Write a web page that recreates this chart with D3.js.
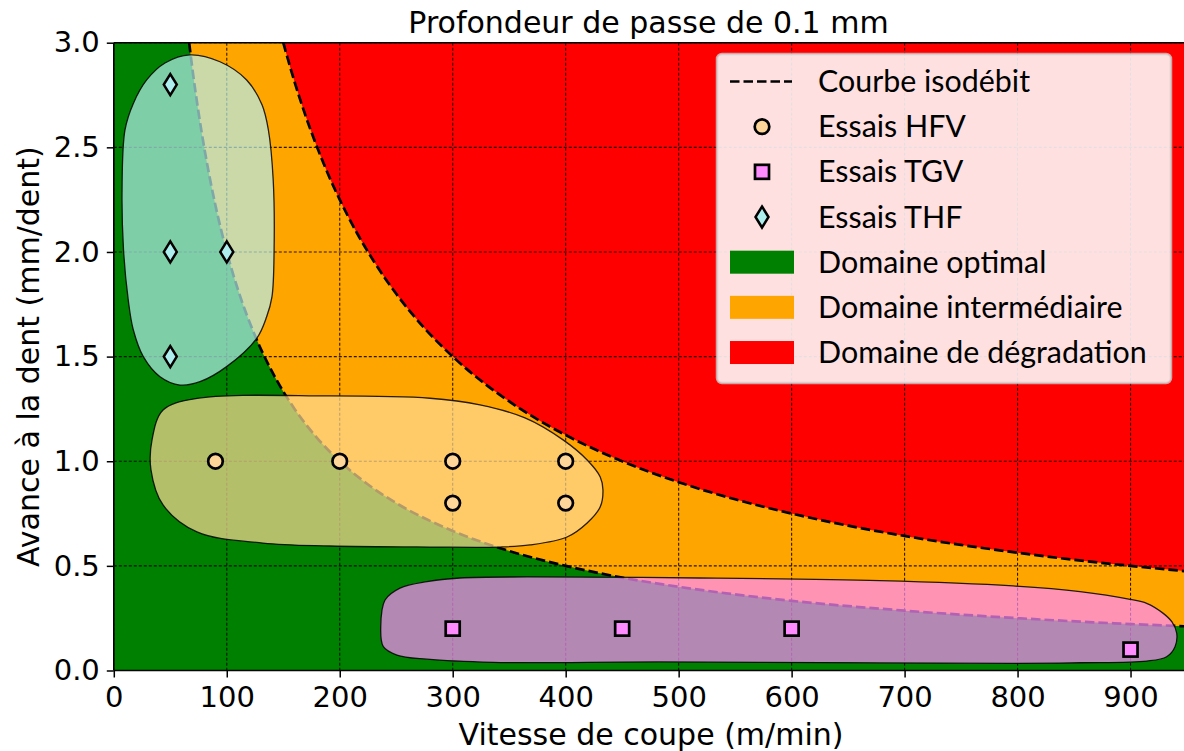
<!DOCTYPE html>
<html>
<head>
<meta charset="utf-8">
<script src="https://cdn.jsdelivr.net/npm/d3@7"></script>
<style>
  body { margin: 0; background: #ffffff; }
  svg { display: block; overflow: hidden; }
</style>
</head>
<body>
<svg id="chart" width="1184" height="751"></svg>
<script>
// ---- Axis ticks ----
const xTicks = [0, 100, 200, 300, 400, 500, 600, 700, 800, 900];
const yTicks = [0.0, 0.5, 1.0, 1.5, 2.0, 2.5, 3.0];

// ---- Boundary between intermediate and degradation domains (isodébit curve) ----
const isoDegradVitesse = [150, 160, 170, 180, 190, 200, 215, 230, 250, 275, 300, 330, 360, 400, 450, 500, 550, 600, 650, 700, 750, 800, 850, 900, 950];
const isoDegradAvance  = [3.000, 2.813, 2.647, 2.500, 2.368, 2.250, 2.093, 1.957, 1.800, 1.636, 1.500, 1.364, 1.250, 1.125, 1.000, 0.900, 0.818, 0.750, 0.692, 0.643, 0.600, 0.563, 0.529, 0.500, 0.474];

// ---- Boundary between optimal and intermediate domains ----
const isoOptVitesse = [66.7, 70, 75, 80, 90, 100, 110, 125, 140, 160, 180, 200, 225, 250, 300, 350, 400, 450, 500, 600, 700, 800, 900, 950];
const isoOptAvance  = [3.000, 2.857, 2.667, 2.500, 2.222, 2.000, 1.818, 1.600, 1.429, 1.250, 1.111, 1.000, 0.889, 0.800, 0.667, 0.571, 0.500, 0.444, 0.400, 0.333, 0.286, 0.250, 0.222, 0.211];

// ---- Test points ----
const hfvVitesse = [90, 200, 300, 300, 400, 400];
const hfvAvance  = [1.0, 1.0, 1.0, 0.8, 1.0, 0.8];
const tgvVitesse = [300, 450, 600, 900];
const tgvAvance  = [0.2, 0.2, 0.2, 0.1];
const thfVitesse = [50, 50, 100, 50];
const thfAvance  = [2.8, 2.0, 2.0, 1.5];

// ---- Envelopes around each test campaign ----
const thfContourVitesse = [67.4, 94, 117.6, 131.2, 136.8, 141.1, 141.9, 140, 135.3, 126.5, 99.9, 76.3, 58.6, 40.9, 26.1, 17.3, 12.8, 8.6, 7.3, 9.9, 17.3, 29.1, 45.3];
const thfContourAvance  = [2.942, 2.909, 2.822, 2.703, 2.584, 2.344, 2.01, 1.785, 1.69, 1.587, 1.452, 1.38, 1.364, 1.404, 1.5, 1.627, 1.77, 2.01, 2.296, 2.583, 2.71, 2.822, 2.903];

const hfvContourVitesse = [43.6, 73.6, 191.4, 279.9, 324.1, 364, 397.7, 419, 430.6, 433, 430.6, 419, 401.2, 368.4, 341.8, 279.9, 191.4, 132.1, 73.6, 43.6, 32.9, 33.8];
const hfvContourAvance  = [1.245, 1.300, 1.312, 1.301, 1.269, 1.207, 1.102, 1.006, 0.925, 0.863, 0.782, 0.705, 0.638, 0.600, 0.590, 0.590, 0.595, 0.609, 0.662, 0.791, 0.959, 1.101];

const tgvContourVitesse = [253.3, 277.2, 306.5, 365.8, 518.9, 678.2, 796, 855.3, 899.6, 914.3, 929, 936.7, 940.9, 939.4, 932, 914.3, 855.3, 796, 678.2, 483.6, 335.8, 277.2, 250.6, 238.6, 236.3, 240.1];
const tgvContourAvance  = [0.394, 0.425, 0.442, 0.447, 0.442, 0.429, 0.404, 0.377, 0.340, 0.321, 0.273, 0.232, 0.178, 0.114, 0.066, 0.045, 0.037, 0.034, 0.036, 0.041, 0.039, 0.054, 0.074, 0.114, 0.209, 0.337];

// ---- Legend ----
const legendLabels = ["Courbe isodébit", "Essais HFV", "Essais TGV", "Essais THF", "Domaine optimal", "Domaine intermédiaire", "Domaine de dégradation"];

// ---- Colours ----
const COL_OPT = "#008000", COL_INT = "#ffa500", COL_DEG = "#ff0000";
const COL_HFV = "#ffdc96", COL_TGV = "#ff8cff", COL_THF = "#b4f0ee";
const MK_HFV = "#ffd699", MK_TGV = "#ff8cff", MK_THF = "#afeeee";

const zip = (a, b) => a.map((v, i) => [v, b[i]]);

const svg = d3.select("#chart");
const plotLeft = 113.8, plotTop = 42.7, plotBottom = 670.5;
const x = d3.scaleLinear().domain([0, 950]).range([plotLeft, plotLeft + 950 * 1.1297]);
const y = d3.scaleLinear().domain([0, 3]).range([plotBottom, plotTop]);
const plotRight = x(950);

const FONT = "'DejaVu Sans', sans-serif";

svg.append("defs").append("clipPath").attr("id", "plotclip")
  .append("rect").attr("x", plotLeft).attr("y", plotTop).attr("width", plotRight - plotLeft).attr("height", plotBottom - plotTop);

const plot = svg.append("g").attr("clip-path", "url(#plotclip)");

// Domains
plot.append("rect").attr("x", plotLeft).attr("y", plotTop).attr("width", plotRight - plotLeft).attr("height", plotBottom - plotTop).attr("fill", COL_OPT);

const areaAbove = d3.area().x(d => x(d[0])).y0(y(3)).y1(d => y(d[1])).curve(d3.curveMonotoneX);
plot.append("path").datum(zip(isoOptVitesse, isoOptAvance)).attr("d", areaAbove).attr("fill", COL_INT);
plot.append("path").datum(zip(isoDegradVitesse, isoDegradAvance)).attr("d", areaAbove).attr("fill", COL_DEG);

// Grid
const grid = plot.append("g").attr("stroke", "#000").attr("stroke-width", 1.1).attr("stroke-dasharray", "3,2").attr("stroke-opacity", 0.85);
grid.selectAll("line.gx").data(xTicks).join("line").attr("class", "gx")
  .attr("x1", d => x(d)).attr("x2", d => x(d)).attr("y1", plotTop).attr("y2", plotBottom);
grid.selectAll("line.gy").data(yTicks).join("line").attr("class", "gy")
  .attr("x1", plotLeft).attr("x2", plotRight).attr("y1", d => y(d)).attr("y2", d => y(d));

// Boundary curves
const line = d3.line().x(d => x(d[0])).y(d => y(d[1])).curve(d3.curveMonotoneX);
[zip(isoOptVitesse, isoOptAvance), zip(isoDegradVitesse, isoDegradAvance)].forEach(pts => {
  plot.append("path").datum(pts).attr("d", line)
    .attr("fill", "none").attr("stroke", "#000").attr("stroke-width", 2.7).attr("stroke-dasharray", "9.5,4");
});

// Envelopes
const closed = d3.line().x(d => x(d[0])).y(d => y(d[1])).curve(d3.curveCatmullRomClosed.alpha(0.5));
[[thfContourVitesse, thfContourAvance, COL_THF],
 [hfvContourVitesse, hfvContourAvance, COL_HFV],
 [tgvContourVitesse, tgvContourAvance, COL_TGV]].forEach(([vs, fs, c]) => {
  plot.append("path").datum(zip(vs, fs)).attr("d", closed)
    .attr("fill", c).attr("fill-opacity", 0.7)
    .attr("stroke", "#000").attr("stroke-opacity", 0.85).attr("stroke-width", 1.3);
});

// Marker symbols
const diamondPath = (cx, cy) => `M${cx},${cy - 10.5}L${cx + 6.5},${cy}L${cx},${cy + 10.5}L${cx - 6.5},${cy}Z`;
function circleMk(g, cx, cy) {
  g.append("circle").attr("cx", cx).attr("cy", cy).attr("r", 7.3).attr("fill", MK_HFV).attr("stroke", "#000").attr("stroke-width", 2.7);
}
function squareMk(g, cx, cy) {
  g.append("rect").attr("x", cx - 7).attr("y", cy - 7).attr("width", 14).attr("height", 14).attr("fill", MK_TGV).attr("stroke", "#000").attr("stroke-width", 2.7);
}
function diamondMk(g, cx, cy) {
  g.append("path").attr("d", diamondPath(cx, cy)).attr("fill", MK_THF).attr("stroke", "#000").attr("stroke-width", 2.5).attr("stroke-linejoin", "miter");
}

const marks = svg.append("g");
zip(hfvVitesse, hfvAvance).forEach(([v, f]) => circleMk(marks, x(v), y(f)));
zip(tgvVitesse, tgvAvance).forEach(([v, f]) => squareMk(marks, x(v), y(f)));
zip(thfVitesse, thfAvance).forEach(([v, f]) => diamondMk(marks, x(v), y(f)));

// Axes
const xAxis = svg.append("g").attr("transform", `translate(0,${plotBottom})`)
  .call(d3.axisBottom(x).tickValues(xTicks).tickFormat(d3.format("d")).tickSize(7).tickPadding(9));
const yAxis = svg.append("g").attr("transform", `translate(${plotLeft},0)`)
  .call(d3.axisLeft(y).tickValues(yTicks).tickFormat(d3.format(".1f")).tickSize(7).tickPadding(7));
[xAxis, yAxis].forEach(a => {
  a.select(".domain").remove();
  a.selectAll(".tick line").attr("stroke", "#000").attr("stroke-width", 1.5);
  a.selectAll(".tick text").attr("fill", "#000").style("font-family", FONT).style("font-size", "29px");
});

// Spines
const spines = svg.append("g").attr("stroke", "#000").attr("stroke-width", 1.6).attr("fill", "none");
spines.append("line").attr("x1", plotLeft).attr("x2", plotLeft).attr("y1", plotTop).attr("y2", plotBottom);
spines.append("line").attr("x1", plotLeft).attr("x2", plotRight).attr("y1", plotTop).attr("y2", plotTop);
spines.append("line").attr("x1", plotLeft).attr("x2", plotRight).attr("y1", plotBottom).attr("y2", plotBottom);

// Titles
svg.append("text").attr("x", (405 + 892) / 2).attr("y", 33).attr("text-anchor", "middle")
  .style("font-family", FONT).style("font-size", "30px").text("Profondeur de passe de 0.1 mm");
svg.append("text").attr("x", 651).attr("y", 745).attr("text-anchor", "middle")
  .style("font-family", FONT).style("font-size", "30px").text("Vitesse de coupe (m/min)");
svg.append("text").attr("transform", `translate(39,${(plotTop + plotBottom) / 2}) rotate(-90)`).attr("text-anchor", "middle")
  .style("font-family", FONT).style("font-size", "30px").text("Avance à la dent (mm/dent)");

// Legend
const lg = svg.append("g");
lg.append("rect").attr("x", 717).attr("y", 54).attr("width", 454).attr("height", 329).attr("rx", 5)
  .attr("fill", "#fff").attr("fill-opacity", 0.88)
  .attr("stroke", "#cccccc").attr("stroke-opacity", 0.8).attr("stroke-width", 2.5);

const rowY = i => 81.5 + i * 45.17;
const handleX = 762;
lg.append("line").attr("x1", 730).attr("x2", 792).attr("y1", rowY(0)).attr("y2", rowY(0))
  .attr("stroke", "#000").attr("stroke-width", 2.7).attr("stroke-dasharray", "9.5,4");
circleMk(lg, handleX, rowY(1));
squareMk(lg, handleX, rowY(2));
diamondMk(lg, handleX, rowY(3));
[COL_OPT, COL_INT, COL_DEG].forEach((c, k) => {
  lg.append("rect").attr("x", 730).attr("y", rowY(4 + k) - 11.5).attr("width", 64).attr("height", 23).attr("fill", c);
});

const LFONT = "Lato, 'Open Sans', sans-serif";
const texts = lg.selectAll("text.lbl").data(legendLabels).join("text").attr("class", "lbl")
  .attr("x", 818).attr("y", (d, i) => rowY(i) + 10.5)
  .style("font-family", LFONT).style("font-size", "32px").attr("fill", "#000").text(d => d);
// Size the legend font so the longest label spans the legend width
const longest = texts.filter((d, i) => i === 6).node().getComputedTextLength();
const lsize = 32 * 329 / longest;
texts.style("font-size", lsize + "px");
</script>
</body>
</html>
